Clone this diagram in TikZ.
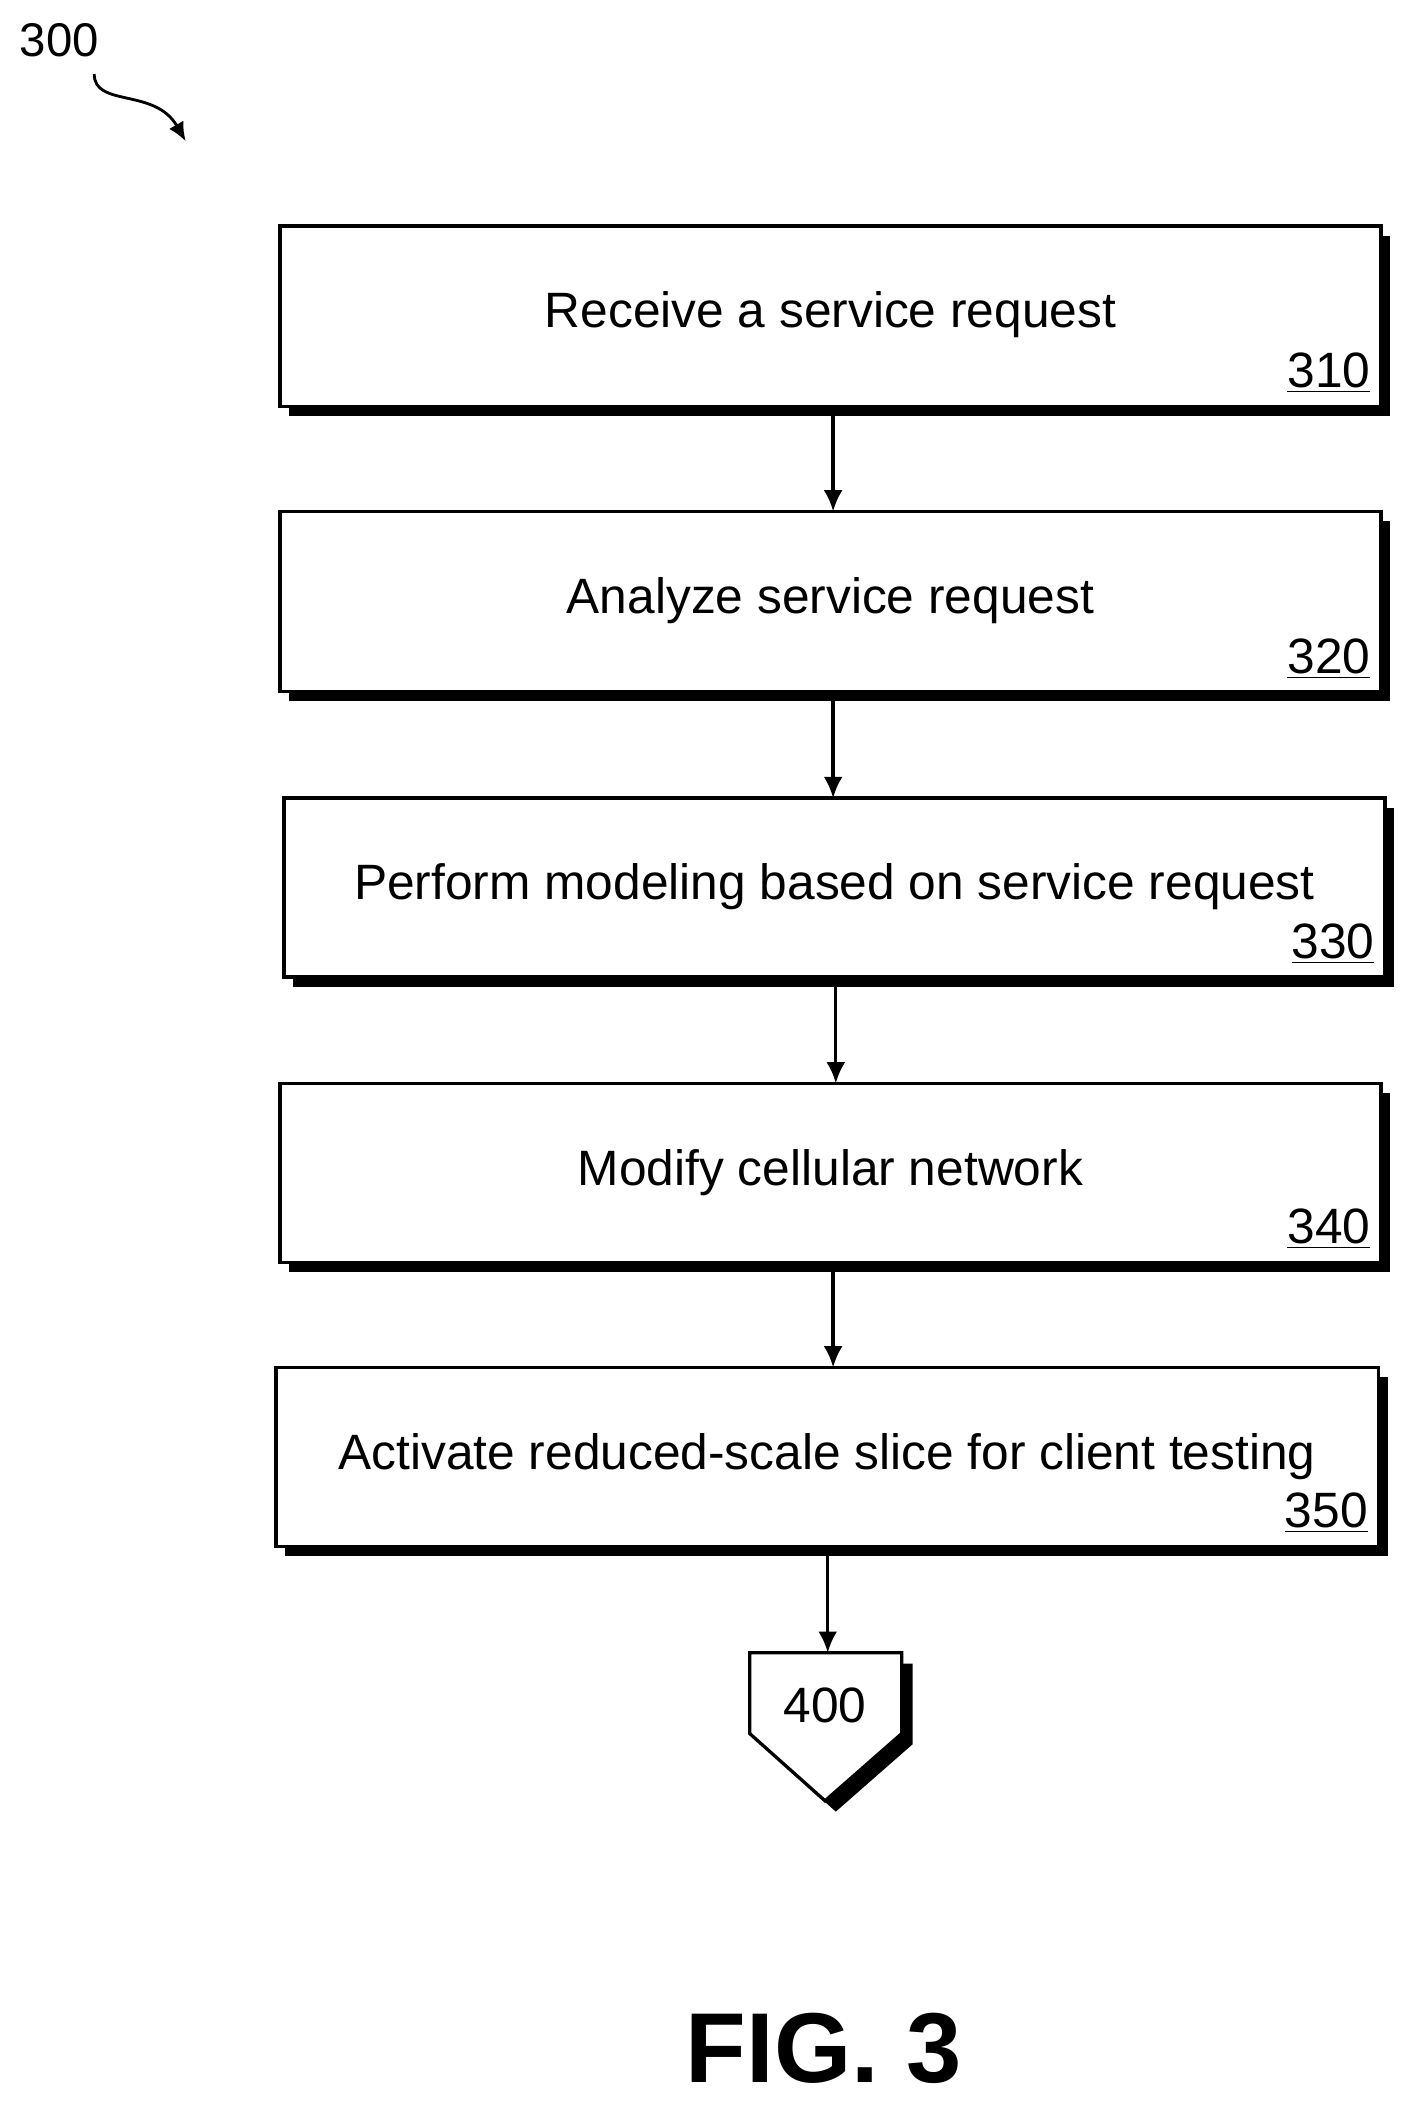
\documentclass[tikz,border=0pt]{standalone}
\usepackage{fontspec}
\setmainfont{Liberation Sans}
\usetikzlibrary{arrows.meta}
\begin{document}
\begin{tikzpicture}[x=0.02cm,y=-0.02cm,
  box/.style={draw=black,fill=white,line width=1.4pt},
  shadow/.style={fill=black},
  txt/.style={font=\fontsize{21}{24}\selectfont},
  num/.style={font=\fontsize{21}{24}\selectfont,anchor=south east,inner sep=2pt},
  arr/.style={-{Latex[length=9pt,width=8pt]},line width=1.4pt}]
\useasboundingbox (0,0) rectangle (1050,1564);
\node[font=\fontsize{20}{22}\selectfont] (l300) at (44,30) {300};
\coordinate (s0) at (70,55);
\coordinate (s1) at (138,105);
\draw[-{Latex[length=8pt,width=7pt]},line width=1.2pt] (s0) .. controls (70,80) and (115,65) .. (s1);
\foreach \n/\xa/\ya/\xb/\yb/\ax/\t in {
  310/208/168/1026/302/619/{Receive a service request},
  320/208/380/1026/514/619/{Analyze service request},
  330/211/593/1029/726/621/{Perform modeling based on service request},
  340/208/805/1026/938/619/{Modify cellular network},
  350/205/1016/1024/1149/615/{Activate reduced-scale slice for client testing}}{
  \fill[shadow] (\xa+7,\ya+7) rectangle (\xb+7,\yb+7);
  \draw[box] (\xa,\ya) rectangle (\xb,\yb);
  \node[txt] (t\n) at ({(\xa+\xb)/2},\ya+66) {\t};
  \node[num] (n\n) at (\xb-4,\yb-6) {\underline{\n}};
  \coordinate (top\n) at (\ax,\ya);
  \coordinate (bot\n) at (\ax,\yb+7);
}
\coordinate (top400) at (615,1228);
\coordinate (bot350) at (615,1156);
\coordinate (top330) at (619,593);
\coordinate (bot330) at (621,733);
\coordinate (top340) at (621,805);
\coordinate (top350) at (619,1016);
\fill[shadow] (565,1236) -- (678,1236) -- (678,1296) -- (621,1346) -- (565,1296) -- cycle;
\draw[box] (557,1228) -- (670,1228) -- (670,1288) -- (613,1338) -- (557,1288) -- cycle;
\node[txt] (t400) at (613,1267) {400};
\draw[arr] (bot310) -- (top320);
\draw[arr] (bot320) -- (top330);
\draw[arr] (bot330) -- (top340);
\draw[arr] (bot340) -- (top350);
\draw[arr] (bot350) -- (top400);
\node[font=\fontsize{42}{46}\selectfont\bfseries] (fig) at (612,1522) {FIG. 3};
\end{tikzpicture}
\end{document}
